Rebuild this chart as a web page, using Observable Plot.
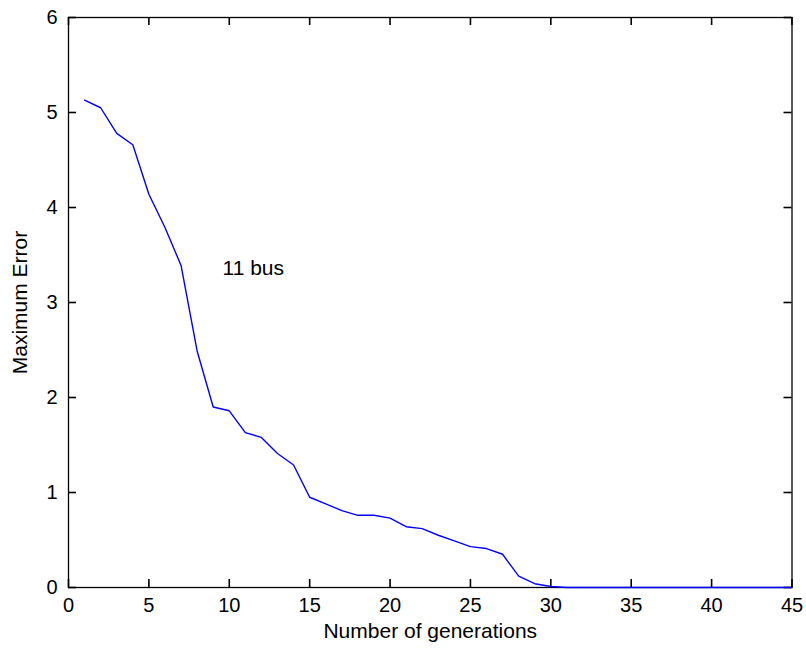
<!DOCTYPE html>
<html>
<head>
<meta charset="utf-8">
<script src="https://cdn.jsdelivr.net/npm/d3@7"></script>
<script src="https://cdn.jsdelivr.net/npm/@observablehq/plot@0.6"></script>
<style>
  html, body { margin: 0; padding: 0; background: #fff; }
  #chart svg { display: block; }
</style>
</head>
<body>
<div id="chart"></div>
<script>
const generations = [1,2,3,4,5,6,7,8,9,10,11,12,13,14,15,16,17,18,19,20,21,22,23,24,25,26,27,28,29,30,31,32,33,34,35,36,37,38,39,40,41,42,43,44,45];
const maxError = [5.13,5.05,4.78,4.66,4.14,3.79,3.39,2.49,1.90,1.86,1.63,1.58,1.41,1.29,0.95,0.88,0.81,0.76,0.76,0.73,0.64,0.62,0.55,0.49,0.43,0.41,0.35,0.12,0.04,0.01,0,0,0,0,0,0,0,0,0,0,0,0,0,0,0];
const xTicks = [0,5,10,15,20,25,30,35,40,45];
const yTicks = [0,1,2,3,4,5,6];
const annotation = [{x: 9.58, y: 3.36, label: "11 bus"}];

const data = generations.map((g, i) => ({g, e: maxError[i]}));

const W = 806, H = 652;
const mL = 68, mR = 14.5, mT = 17, mB = 65;
const frameH = H - mT - mB, frameW = W - mL - mR;
const tickLen = 8;

const chart = Plot.plot({
  width: W,
  height: H,
  marginLeft: mL,
  marginRight: mR,
  marginTop: mT,
  marginBottom: mB,
  style: {fontFamily: "'Liberation Sans', Arial, sans-serif", fontSize: "20px", color: "#000", background: "#fff"},
  x: {domain: [0, 45]},
  y: {domain: [0, 6]},
  marks: [
    Plot.frame({stroke: "#000", strokeWidth: 1.3}),
    // inward tick marks on all four sides
    Plot.ruleX(xTicks, {x: d => d, insetTop: frameH - tickLen, stroke: "#000", strokeWidth: 1.6}),
    Plot.ruleX(xTicks, {x: d => d, insetBottom: frameH - tickLen, stroke: "#000", strokeWidth: 1.6}),
    Plot.ruleY(yTicks, {y: d => d, insetRight: frameW - tickLen, stroke: "#000", strokeWidth: 1.6}),
    Plot.ruleY(yTicks, {y: d => d, insetLeft: frameW - tickLen, stroke: "#000", strokeWidth: 1.6}),
    Plot.axisX({ticks: xTicks, tickSize: 0, tickPadding: 10, fontSize: 20, tickFormat: d3.format("d"),
      label: null}),
    Plot.axisX({ticks: [], tickSize: 0, fontSize: 21,
      label: "Number of generations", labelAnchor: "center", labelOffset: 50, labelArrow: false}),
    Plot.axisY({ticks: yTicks, tickSize: 0, tickPadding: 11, fontSize: 20, tickFormat: d3.format("d"),
      label: null}),
    Plot.axisY({ticks: [], tickSize: 0, fontSize: 21,
      label: "Maximum Error", labelAnchor: "center", labelOffset: 56, labelArrow: false}),
    Plot.line(data, {x: "g", y: "e", stroke: "#0000ff", strokeWidth: 1.4}),
    Plot.text(annotation, {x: "x", y: "y", text: "label", textAnchor: "start", fontSize: 21, fill: "#000"})
  ]
});
document.getElementById("chart").append(chart);
</script>
</body>
</html>
